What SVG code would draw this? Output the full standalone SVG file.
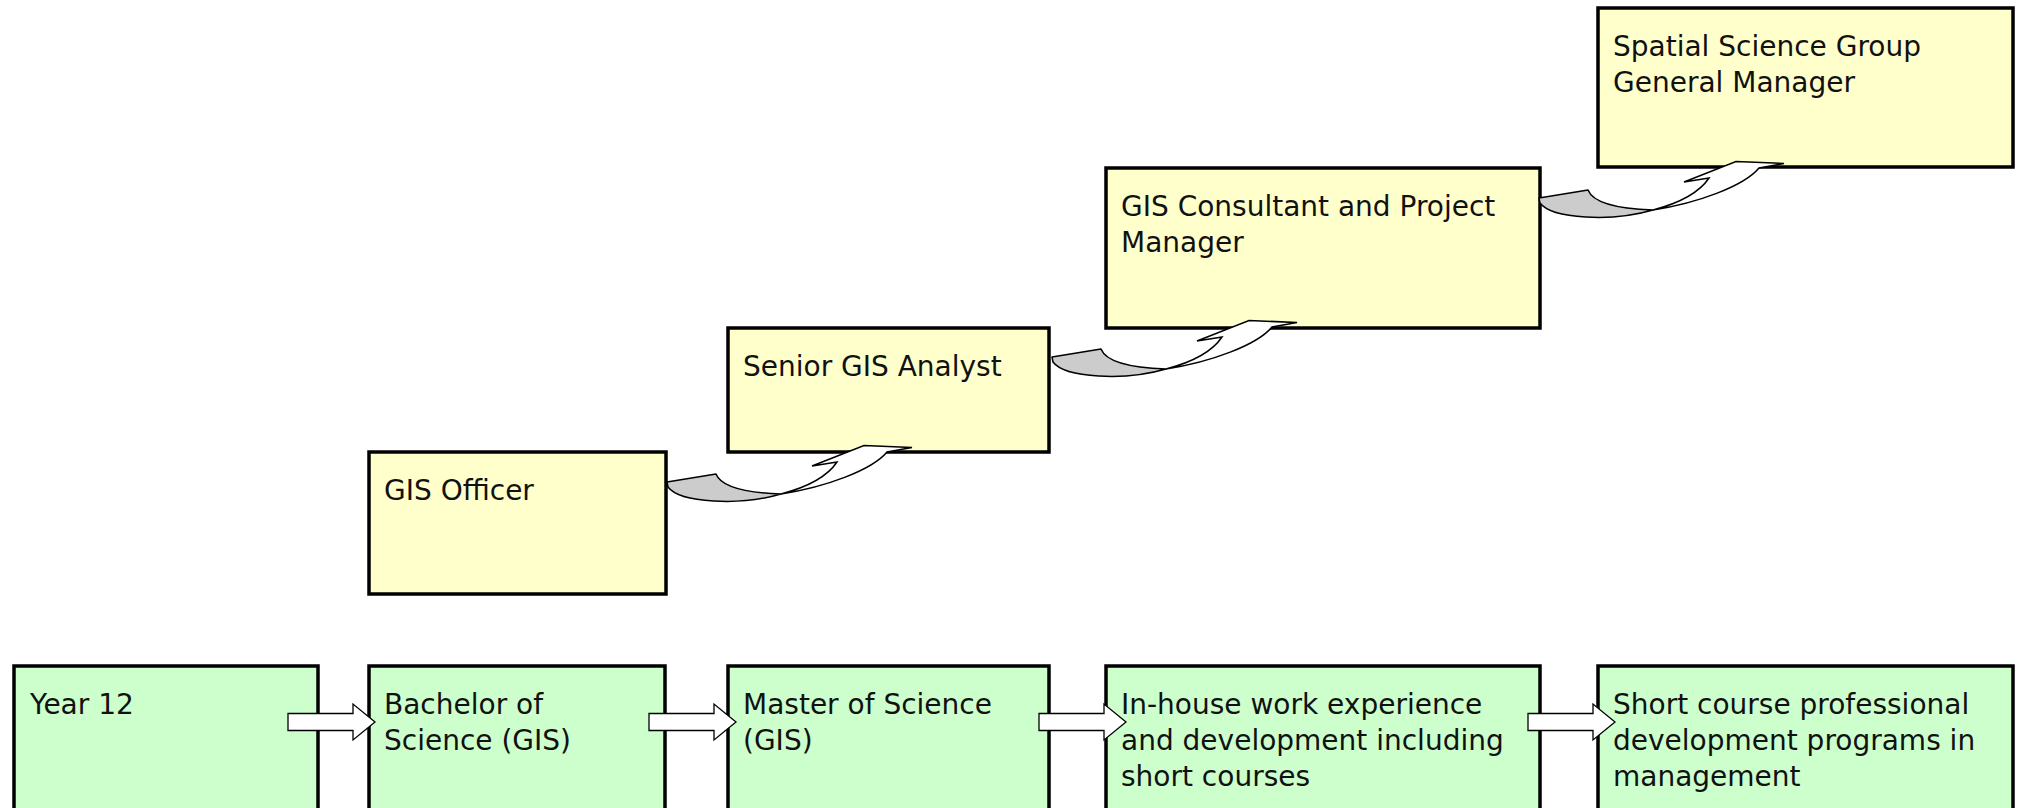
<svg xmlns="http://www.w3.org/2000/svg" xmlns:xlink="http://www.w3.org/1999/xlink" width="2024" height="808" viewBox="0 0 2024 808">
  <style>
    .box { stroke: #000; stroke-width: 3.5; }
    .study { fill: #CCFFCC; }
    .job { fill: #FFFFCC; }
    .label { font-family: "DejaVu Sans", "Liberation Sans", sans-serif; font-size: 28px; fill: #111; }
    .block { fill: #fff; stroke: #000; stroke-width: 1.3; stroke-linejoin: miter; }
    .back { fill: #CCCCCC; stroke: #000; stroke-width: 1.5; stroke-linejoin: round; }
    .front { fill: #fff; stroke: #000; stroke-width: 1.5; stroke-linejoin: miter; }
  </style>
  <defs>
    <!-- block arrow pointing right, origin at body start / centre line -->
    <path id="blockArrow" class="block" d="M0,-8.5 H65 V-18 L87,0 L65,18 V8.5 H0 Z"/>
    <!-- curved ribbon arrow rising from the right edge of one box to the bottom of the next -->
    <g id="curveArrow">
      <path class="back" d="M667,482 L716,474 Q723,492 781,494 C740,506 680,503 668,487 Z"/>
      <path class="front" d="M781,494 C826,487 872,470 887,452 L912,447.5 L864,445.5 L812,466 L837,462 Q823,483 781,494 Z"/>
    </g>
  </defs>

  <rect width="2024" height="808" fill="#fff"/>

  <!-- study pathway -->
  <g id="year12">
    <rect class="box study" x="14" y="666" width="304" height="200"/>
    <text class="label" x="30" y="714">Year 12</text>
  </g>
  <g id="bachelor">
    <rect class="box study" x="369" y="666" width="296" height="200"/>
    <text class="label" x="384" y="714">Bachelor of</text>
    <text class="label" x="384" y="750">Science (GIS)</text>
  </g>
  <g id="master">
    <rect class="box study" x="728" y="666" width="321" height="200"/>
    <text class="label" x="743" y="714">Master of Science</text>
    <text class="label" x="743" y="750">(GIS)</text>
  </g>
  <g id="inhouse">
    <rect class="box study" x="1106" y="666" width="434" height="200"/>
    <text class="label" x="1121" y="714">In-house work experience</text>
    <text class="label" x="1121" y="750">and development including</text>
    <text class="label" x="1121" y="786">short courses</text>
  </g>
  <g id="shortcourse">
    <rect class="box study" x="1598" y="666" width="415" height="200"/>
    <text class="label" x="1613" y="714">Short course professional</text>
    <text class="label" x="1613" y="750">development programs in</text>
    <text class="label" x="1613" y="786">management</text>
  </g>

  <!-- career pathway -->
  <g id="gisofficer">
    <rect class="box job" x="369" y="452" width="297" height="142"/>
    <text class="label" x="384" y="500">GIS Officer</text>
  </g>
  <g id="senioranalyst">
    <rect class="box job" x="728" y="328" width="321" height="124"/>
    <text class="label" x="743" y="376">Senior GIS Analyst</text>
  </g>
  <g id="consultant">
    <rect class="box job" x="1106" y="168" width="434" height="160"/>
    <text class="label" x="1121" y="216">GIS Consultant and Project</text>
    <text class="label" x="1121" y="252">Manager</text>
  </g>
  <g id="generalmanager">
    <rect class="box job" x="1598" y="8" width="415" height="159"/>
    <text class="label" x="1613" y="56">Spatial Science Group</text>
    <text class="label" x="1613" y="92">General Manager</text>
  </g>

  <!-- connectors -->
  <g id="connectors">
    <use xlink:href="#blockArrow" href="#blockArrow" x="288" y="722"/>
    <use xlink:href="#blockArrow" href="#blockArrow" x="649" y="722"/>
    <use xlink:href="#blockArrow" href="#blockArrow" x="1039" y="722"/>
    <use xlink:href="#blockArrow" href="#blockArrow" x="1528" y="722"/>
    <use xlink:href="#curveArrow" href="#curveArrow"/>
    <use xlink:href="#curveArrow" href="#curveArrow" transform="translate(385,-125)"/>
    <use xlink:href="#curveArrow" href="#curveArrow" transform="translate(872,-284)"/>
  </g>
</svg>
